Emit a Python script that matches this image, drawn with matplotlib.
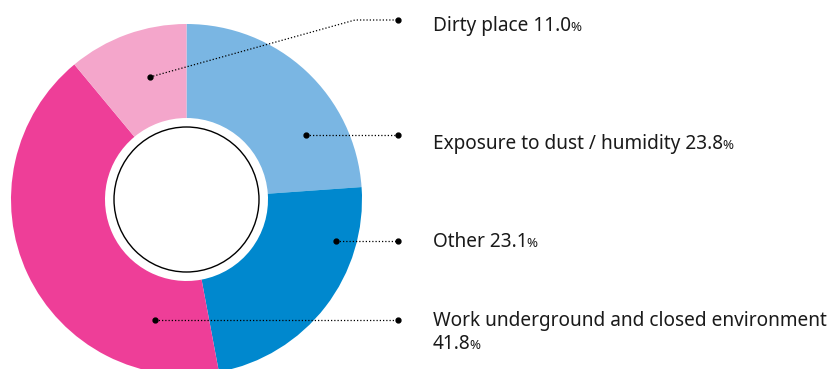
import matplotlib.pyplot as plt
from matplotlib.patches import Circle

# data
labels = ["Exposure to dust / humidity", "Other",
          "Work underground and closed environment", "Dirty place"]
values = [23.8, 23.1, 41.8, 11.0]
colors = ["#7ab6e3", "#0088ce", "#ee3e98", "#f4a6cb"]

# layout in pixel coords (y measured from top)
W, H = 827, 369
cx, cy = 186.5, 199.5
r_out, r_in, r_ring = 175.5, 81.5, 72.5

fig = plt.figure(figsize=(W / 100, H / 100), dpi=100)
ax = fig.add_axes([0, 0, 1, 1])
ax.set_xlim(0, W)
ax.set_ylim(0, H)
ax.set_aspect("equal")
ax.axis("off")

def Y(y):
    return H - y

ax.pie(values, colors=colors, startangle=90, counterclock=False,
       center=(cx, Y(cy)), radius=r_out,
       wedgeprops=dict(width=r_out - r_in, linewidth=0))
ax.add_patch(Circle((cx, Y(cy)), r_ring, facecolor="white",
                    edgecolor="black", linewidth=1.0, zorder=3))
ax.set_xlim(0, W)
ax.set_ylim(0, H)

# leader lines for each label, and text baselines
leaders = [
    [(306, 135), (398, 135)],
    [(336, 241), (398, 241)],
    [(155, 320), (398, 320)],
    [(150, 77), (355, 20), (398, 20)],
]
baselines = [[149], [247], [326, 349], [31]]

fnt = "Noto Sans"
size, psize = 13.7, 9.5
tcol = "#1a1a1a"

fig.canvas.draw()
rend = fig.canvas.get_renderer()

def put(x, y, main):
    t = ax.text(x, Y(y), main, fontsize=size, family=fnt, va="baseline",
                ha="left", color=tcol)
    bb = t.get_window_extent(rend)
    ax.text(bb.x1 - 1, Y(y), "%", fontsize=psize, family=fnt,
            va="baseline", ha="left", color=tcol)

for lab, val, pts, bl in zip(labels, values, leaders, baselines):
    xs = [p[0] for p in pts]
    ys = [Y(p[1]) for p in pts]
    ax.plot(xs, ys, color="black", linestyle=(0, (1, 1.6)), linewidth=0.9,
            zorder=4)
    ax.plot([xs[0], xs[-1]], [ys[0], ys[-1]], "o", color="black",
            markersize=3.5, zorder=5)
    if len(bl) == 1:
        put(433, bl[0], f"{lab} {val:.1f}")
    else:
        ax.text(433, Y(bl[0]), lab, fontsize=size, family=fnt,
                va="baseline", ha="left", color=tcol)
        put(433, bl[1], f"{val:.1f}")

fig.savefig("out.png", dpi=100)
